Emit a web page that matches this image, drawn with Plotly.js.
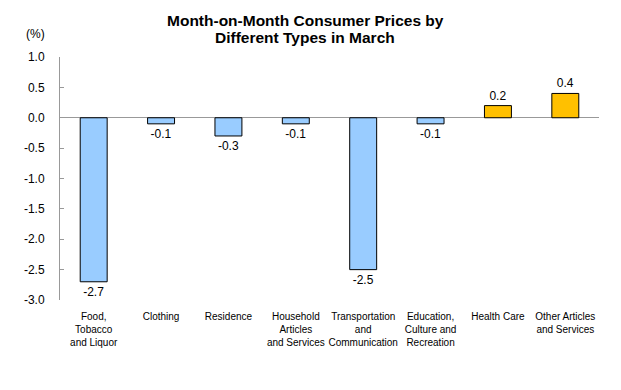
<!DOCTYPE html>
<html>
<head>
<meta charset="utf-8">
<script src="https://cdn.plot.ly/plotly-3.0.1.min.js"></script>
<style>html,body{margin:0;padding:0;background:#fff;}#chart{width:621px;height:390px;}</style>
</head>
<body>
<div id="chart"></div>
<script>
const categories = [
  "Food,<br>Tobacco<br>and Liquor",
  "Clothing",
  "Residence",
  "Household<br>Articles<br>and Services",
  "Transportation<br>and<br>Communication",
  "Education,<br>Culture and<br>Recreation",
  "Health Care",
  "Other Articles<br>and Services"
];
const values = [-2.7, -0.1, -0.3, -0.1, -2.5, -0.1, 0.2, 0.4];
const tickVals = [1.0, 0.5, 0.0, -0.5, -1.0, -1.5, -2.0, -2.5, -3.0];
const tickText = ["1.0", "0.5", "0.0", "-0.5", "-1.0", "-1.5", "-2.0", "-2.5", "-3.0"];
const titleLines = ["Month-on-Month Consumer Prices by", "Different Types in March"];

const colors = values.map(v => v < 0 ? "#99CCFF" : "#FFC000");
const F = "Arial, 'Liberation Sans', sans-serif";

const trace = {
  type: "bar",
  x: categories,
  y: values,
  marker: { color: colors, line: { color: "#000000", width: 1 } },
  width: 0.4,
  text: values.map(v => v.toFixed(1)),
  textposition: "outside",
  cliponaxis: false,
  textfont: { family: F, size: 12, color: "#000" },
  hoverinfo: "none"
};

const titleY = [1.152, 1.082];
const titleAnns = titleLines.map((t, i) => ({
  text: "<b>" + t + "</b>",
  xref: "paper", yref: "paper",
  x: 0.455, y: titleY[i],
  xanchor: "center", yanchor: "middle",
  showarrow: false,
  font: { family: F, size: 15.5, color: "#000" }
}));

const layout = {
  width: 621,
  height: 390,
  margin: { l: 60, r: 22, t: 57, b: 90 },
  paper_bgcolor: "#fff",
  plot_bgcolor: "#fff",
  showlegend: false,
  xaxis: {
    type: "category",
    showline: false,
    showgrid: false,
    zeroline: false,
    ticks: "",
    tickfont: { family: "'Liberation Sans Narrow', 'Arial Narrow', Arial, sans-serif", size: 10, color: "#000" },
    tickangle: 0,
    ticklabelstandoff: 9,
    automargin: false
  },
  yaxis: {
    range: [-3.0, 1.0],
    tickvals: tickVals,
    ticktext: tickText,
    showline: true,
    linecolor: "#999999",
    linewidth: 1,
    ticks: "inside",
    ticklen: 4,
    tickcolor: "#999999",
    showgrid: false,
    zeroline: true,
    zerolinecolor: "#999999",
    zerolinewidth: 1,
    tickfont: { family: F, size: 12, color: "#000" },
    ticklabelstandoff: 12,
    automargin: false
  },
  annotations: titleAnns.concat([{
    text: "(%)",
    xref: "paper", yref: "paper",
    x: -0.025, y: 1.095,
    xanchor: "right", yanchor: "middle",
    showarrow: false,
    font: { family: F, size: 12, color: "#000" }
  }])
};

Plotly.newPlot("chart", [trace], layout, { displayModeBar: false, staticPlot: true });
</script>
</body>
</html>
